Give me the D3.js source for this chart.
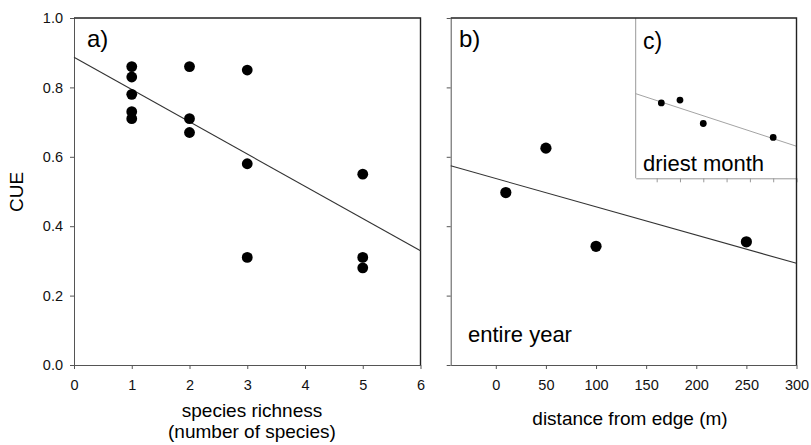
<!DOCTYPE html>
<html>
<head>
<meta charset="utf-8">
<script src="https://cdn.jsdelivr.net/npm/d3@7"></script>
<style>
  body { margin: 0; background: #fff; }
  svg { display: block; font-family: "Liberation Sans", Arial, sans-serif; }
  .axis path, .axis line { stroke: #555; }
</style>
</head>
<body>
<div id="chart"></div>
<script>
// data
var richness = [1, 1, 1, 1, 1, 2, 2, 2, 3, 3, 3, 5, 5, 5];
var cueA = [0.86, 0.83, 0.78, 0.73, 0.71, 0.86, 0.71, 0.67, 0.85, 0.58, 0.31, 0.55, 0.31, 0.28];
var fitA = [0.887, 0.329]; // fitted CUE at x = 0 and x = 6

var distance = [10, 50, 100, 250];
var cueB = [0.497, 0.625, 0.342, 0.355];   // entire year
var fitB = [0.574, 0.293];                 // at x = -45 and x = 300
var cueC = [0.47, 0.488, 0.342, 0.255];    // driest month (inset)
var fitC = [0.528, 0.2];

var yTicks = [0, 0.2, 0.4, 0.6, 0.8, 1.0];
var xTicksA = [0, 1, 2, 3, 4, 5, 6];
var xTicksB = [0, 50, 100, 150, 200, 250, 300];

var svgWidth = 811;
var svgHeight = 445;
var plotTop = 18, plotBottom = 365;

var svg = d3.select("#chart")
  .append("svg")
  .attr("width", svgWidth)
  .attr("height", svgHeight);

function styleTicks(g) {
  g.selectAll("text")
    .style("font-family", '"Liberation Sans", Arial, sans-serif')
    .style("font-size", "14.5px")
    .attr("fill", "#111");
}

var y = d3.scaleLinear().domain([0, 1]).range([plotBottom, plotTop]);

// ---- panel a ----
var xA = d3.scaleLinear().domain([0, 6]).range([74, 420.5]);

svg.append("g")
  .attr("class", "axis")
  .attr("transform", `translate(0, ${plotBottom})`)
  .call(d3.axisBottom(xA).tickValues(xTicksA).tickFormat(d3.format("d"))
    .tickSize(4).tickSizeOuter(0).tickPadding(11))
  .call(styleTicks);

svg.append("g")
  .attr("class", "axis")
  .attr("transform", `translate(74, 0)`)
  .call(d3.axisLeft(y).tickValues(yTicks).tickFormat(d3.format(".1f"))
    .tickSize(4).tickSizeOuter(0).tickPadding(7))
  .call(styleTicks);

svg.append("path")
  .attr("d", `M74,${plotTop}H${xA(6)}V${plotBottom}`)
  .attr("fill", "none")
  .attr("stroke", "#222")
  .attr("stroke-width", 1.4);

svg.append("path")
  .datum(fitA.map((v, i) => [xA.domain()[i], v]))
  .attr("d", d3.line().x(d => xA(d[0])).y(d => y(d[1])))
  .attr("fill", "none")
  .attr("stroke", "#333")
  .attr("stroke-width", 1.1);

svg.append("g").selectAll("circle")
  .data(cueA)
  .enter()
  .append("circle")
  .attr("cx", (d, i) => xA(richness[i]))
  .attr("cy", d => y(d))
  .attr("r", 5.4)
  .attr("fill", "#000");

svg.append("text")
  .attr("x", 87).attr("y", 47)
  .attr("font-size", 24)
  .text("a)");

svg.append("text")
  .attr("text-anchor", "middle")
  .attr("font-size", 19)
  .attr("x", 252).attr("y", 417)
  .text("species richness");

svg.append("text")
  .attr("text-anchor", "middle")
  .attr("font-size", 19)
  .attr("x", 252).attr("y", 438)
  .text("(number of species)");

svg.append("text")
  .attr("transform", "translate(23, 192) rotate(-90)")
  .attr("text-anchor", "middle")
  .attr("font-size", 19)
  .text("CUE");

// ---- panel b ----
var xB = d3.scaleLinear().domain([-45, 300]).range([450.7, 796.5]);

svg.append("g")
  .attr("class", "axis")
  .attr("transform", `translate(0, ${plotBottom})`)
  .call(d3.axisBottom(xB).tickValues(xTicksB).tickFormat(d3.format("d"))
    .tickSize(4).tickSizeOuter(0).tickPadding(11))
  .call(styleTicks);

svg.append("g")
  .attr("class", "axis")
  .attr("transform", `translate(450.7, 0)`)
  .call(d3.axisLeft(y).tickValues(yTicks).tickFormat("")
    .tickSize(4).tickSizeOuter(0));

svg.append("path")
  .datum(fitB.map((v, i) => [xB.domain()[i], v]))
  .attr("d", d3.line().x(d => xB(d[0])).y(d => y(d[1])))
  .attr("fill", "none")
  .attr("stroke", "#333")
  .attr("stroke-width", 1.1);

svg.append("g").selectAll("circle")
  .data(cueB)
  .enter()
  .append("circle")
  .attr("cx", (d, i) => xB(distance[i]))
  .attr("cy", d => y(d))
  .attr("r", 5.6)
  .attr("fill", "#000");

svg.append("text")
  .attr("x", 459).attr("y", 47)
  .attr("font-size", 24)
  .text("b)");

svg.append("text")
  .attr("x", 468).attr("y", 342)
  .attr("font-size", 22)
  .text("entire year");

svg.append("text")
  .attr("text-anchor", "middle")
  .attr("font-size", 19)
  .attr("x", 630).attr("y", 425)
  .text("distance from edge (m)");

// ---- inset c (same x range, shrunk) ----
var insetLeft = 635.7, insetBottom = 178.3;
var xC = d3.scaleLinear().domain([-45, 300]).range([insetLeft, 796.5]);
var yC = d3.scaleLinear().domain([0, 1]).range([insetBottom, plotTop]);

svg.append("rect")
  .attr("x", insetLeft).attr("y", plotTop)
  .attr("width", 796.5 - insetLeft).attr("height", insetBottom - plotTop)
  .attr("fill", "#fff");

svg.append("g")
  .attr("transform", `translate(0, ${insetBottom})`)
  .call(d3.axisBottom(xC).tickValues(xTicksB).tickFormat("")
    .tickSize(4).tickSizeOuter(0))
  .call(g => g.selectAll("path, line").attr("stroke", "#999"));

svg.append("line")
  .attr("x1", insetLeft).attr("x2", insetLeft)
  .attr("y1", plotTop).attr("y2", insetBottom)
  .attr("stroke", "#999");

svg.append("path")
  .datum(fitC.map((v, i) => [xC.domain()[i], v]))
  .attr("d", d3.line().x(d => xC(d[0])).y(d => yC(d[1])))
  .attr("fill", "none")
  .attr("stroke", "#999")
  .attr("stroke-width", 0.9);

svg.append("g").selectAll("circle")
  .data(cueC)
  .enter()
  .append("circle")
  .attr("cx", (d, i) => xC(distance[i]))
  .attr("cy", d => yC(d))
  .attr("r", 3.4)
  .attr("fill", "#000");

svg.append("text")
  .attr("x", 643).attr("y", 49)
  .attr("font-size", 23)
  .text("c)");

svg.append("text")
  .attr("x", 643).attr("y", 171)
  .attr("font-size", 22)
  .text("driest month");

// frame of panel b on top of the inset
svg.append("path")
  .attr("d", `M450.7,${plotTop}H796.5V${plotBottom}`)
  .attr("fill", "none")
  .attr("stroke", "#222")
  .attr("stroke-width", 1.4);
</script>
</body>
</html>
